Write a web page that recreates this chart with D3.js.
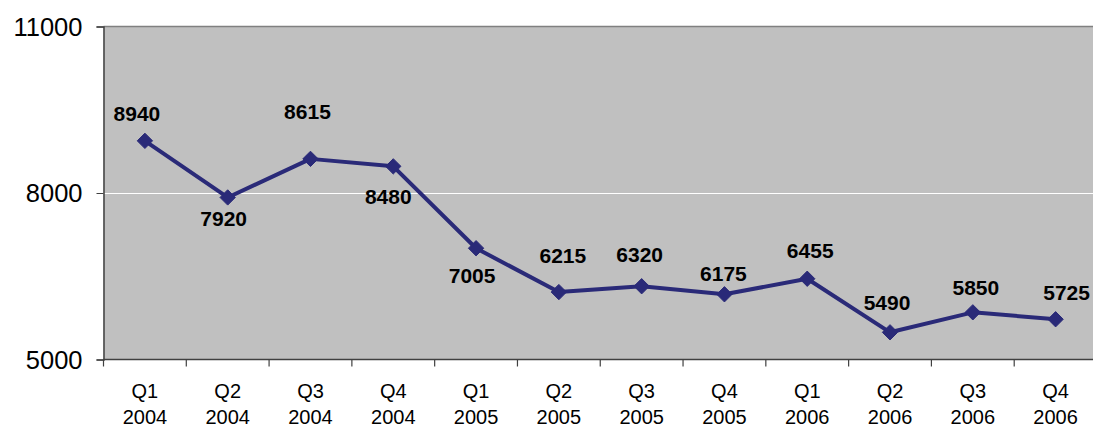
<!DOCTYPE html>
<html>
<head>
<meta charset="utf-8">
<script src="https://cdn.jsdelivr.net/npm/d3@7"></script>
<style>
  html, body { margin: 0; padding: 0; background: #ffffff; }
  svg { display: block; }
</style>
</head>
<body>
<svg id="chart" width="1093" height="426"></svg>
<script>
// ---- data ----
const quarters = ["Q1", "Q2", "Q3", "Q4", "Q1", "Q2", "Q3", "Q4", "Q1", "Q2", "Q3", "Q4"];
const years = ["2004", "2004", "2004", "2004", "2005", "2005", "2005", "2005", "2006", "2006", "2006", "2006"];
const values = [8940, 7920, 8615, 8480, 7005, 6215, 6320, 6175, 6455, 5490, 5850, 5725];
const yTicks = [5000, 8000, 11000];

// ---- label placement (layout only) ----
const labelDx = [-8, -4, -3, -5, -4, 4, -2, -1, 3, -3, 3, 11];
const labelDy = [-20, 29, -40, 38, 35, -29, -24, -13, -21, -22, -17, -19];

(function () {
const svg = d3.select("#chart");
const pl = 103.5, pr = 1097, pt = 26.5, pb = 359.5;

const keys = quarters.map((q, i) => i);
const x = d3.scaleBand().domain(keys).range([pl, pr]);
const y = d3.scaleLinear().domain([5000, 11000]).range([pb, pt]);

// plot background
svg.append("rect")
  .attr("x", pl).attr("y", pt)
  .attr("width", pr - pl).attr("height", pb - pt)
  .attr("fill", "#c0c0c0");

// top border
svg.append("line")
  .attr("x1", pl).attr("x2", pr).attr("y1", pt).attr("y2", pt)
  .attr("stroke", "#808080").attr("stroke-width", 1.5);

// gridlines
svg.append("g").selectAll("line")
  .data(yTicks.filter(t => t !== 5000 && t !== 11000))
  .join("line")
  .attr("x1", pl).attr("x2", pr)
  .attr("y1", d => Math.round(y(d)) + 0.5).attr("y2", d => Math.round(y(d)) + 0.5)
  .attr("stroke", "#ffffff").attr("stroke-width", 1.2);

// y axis
const yAxis = d3.axisLeft(y).tickValues(yTicks).tickSize(7).tickPadding(14).tickFormat(d3.format("d"));
const gy = svg.append("g").attr("transform", `translate(${pl},0)`).call(yAxis);
gy.select(".domain").attr("stroke", "#404040").attr("stroke-width", 1.5);
gy.selectAll(".tick line").attr("stroke", "#404040");
gy.selectAll(".tick text")
  .attr("font-family", "Liberation Sans, Arial, sans-serif")
  .attr("font-size", 25.5).attr("fill", "#000").attr("dy", "0.35em");

// x axis (ticks at band boundaries)
const gx = svg.append("g").attr("transform", `translate(0,${pb})`);
gx.append("line").attr("x1", pl).attr("x2", pr).attr("y1", 0).attr("y2", 0)
  .attr("stroke", "#404040").attr("stroke-width", 1.5);
const boundaries = keys.map(k => x(k)).concat([x(keys[keys.length - 1]) + x.bandwidth()]);
gx.selectAll("line.tk").data(boundaries).join("line").attr("class", "tk")
  .attr("x1", d => d).attr("x2", d => d).attr("y1", 0).attr("y2", 7)
  .attr("stroke", "#404040").attr("stroke-width", 1.2);
const xl = gx.selectAll("text.xl").data(keys).join("text").attr("class", "xl")
  .attr("x", d => x(d) + x.bandwidth() / 2)
  .attr("text-anchor", "middle")
  .attr("font-family", "Liberation Sans, Arial, sans-serif")
  .attr("font-size", 20).attr("fill", "#000");
xl.append("tspan").attr("x", d => x(d) + x.bandwidth() / 2).attr("y", 38).text(d => quarters[d]);
xl.append("tspan").attr("x", d => x(d) + x.bandwidth() / 2).attr("y", 64).text(d => years[d]);

// line
const cx = i => x(i) + x.bandwidth() / 2;
const line = d3.line().x((d, i) => cx(i)).y(d => y(d));
svg.append("path").datum(values)
  .attr("d", line).attr("fill", "none")
  .attr("stroke", "#2a2a78").attr("stroke-width", 4).attr("stroke-linejoin", "round");

// markers
svg.append("g").selectAll("path").data(values).join("path")
  .attr("transform", (d, i) => `translate(${cx(i)},${y(d)})`)
  .attr("d", d3.symbol().type(d3.symbolDiamond2).size(150))
  .attr("fill", "#2a2a78").attr("stroke", "#2a2a78").attr("stroke-width", 1);

// data labels
svg.append("g").selectAll("text").data(values).join("text")
  .attr("x", (d, i) => cx(i) + labelDx[i])
  .attr("y", (d, i) => y(d) + labelDy[i])
  .attr("text-anchor", "middle")
  .attr("font-family", "Liberation Sans, Arial, sans-serif")
  .attr("font-weight", "bold").attr("font-size", 21).attr("fill", "#000")
  .text(d => d);
})();
</script>
</body>
</html>
